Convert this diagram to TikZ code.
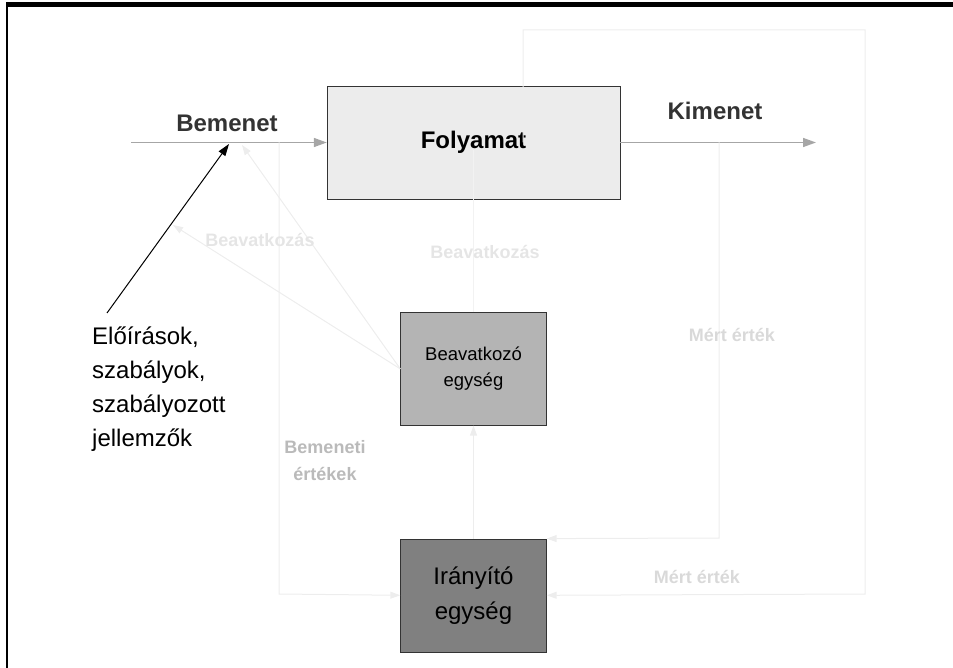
\documentclass[tikz,border=0pt]{standalone}
\usepackage{fontspec}
\setmainfont{Liberation Sans}
\usetikzlibrary{arrows.meta, positioning}

\definecolor{procfill}{HTML}{ECECEC}
\definecolor{actfill}{HTML}{B4B4B4}
\definecolor{ctrlfill}{HTML}{808080}

\begin{document}
\begin{tikzpicture}[x=1pt, y=-1pt,
	node distance=113pt,
	box/.style = {draw=black!80, minimum width=146pt, minimum height=113pt, align=center, inner sep=0pt},
	flow/.style = {draw=black!35, line width=1.5pt, -{Triangle[length=13pt,width=9pt]}},
	fb/.style = {draw=black!7, line width=1pt, -{Triangle[length=10pt,width=7pt]}},
	fbline/.style = {draw=black!5, line width=1pt},
	big/.style = {font=\bfseries\fontsize{24}{28}\selectfont},
	lbl/.style = {font=\bfseries\fontsize{18}{27}\selectfont, align=center, inner sep=0pt}
     ]
	\useasboundingbox (0,0) rectangle (953,668);
	% frame
	\draw[line width=5pt] (6,4.5) -- (953,4.5);
	\draw[line width=2pt] (7,2) -- (7,668);
%
	\node[box, minimum width=293pt, fill=procfill, big] (folyamat) at (473.5,142.5) {Folyamat};
	\node[box, below=of folyamat, fill=actfill, font=\fontsize{18.5}{26}\selectfont] (beav) {Beavatkozó\\egység};
	\node[box, below=of beav, fill=ctrlfill, font=\fontsize{24}{35}\selectfont] (iranyito) {Irányító\\egység};
%
	\coordinate (in) at (131,142.5);
	\coordinate (out) at (816,142.5);
	\coordinate (tap) at (719,142.5);
	\coordinate (split) at (279,142.5);
	\coordinate (top) at (523,142.5);
	\coordinate (elo) at (107,313);
	\coordinate (cel) at (229,144);
	\coordinate (hit1) at (173,225);
	\coordinate (hit2) at (242,145);
%
	\draw[flow] (in) -- (folyamat.west);
	\draw[flow] (folyamat.east) -- (out);
	\node[big, text=black!80] (bem) at (227,123) {Bemenet};
	\node[big, text=black!80] (kim) at (715,111) {Kimenet};
%
	% feedback lines
	\draw[fb] (top) -- (523,30) -- (865,30) -- (865,594) -- (iranyito.east);
	\draw[fb] (tap) -- (719,538) -- (iranyito.north east);
	\draw[fb] (split) -- (279,594) -- (iranyito.west);
	\draw[fb] (iranyito.north) -- (beav.south);
	\draw[fbline] (beav.north) -- ([yshift=-8pt]folyamat.center);
	\draw[fb] (beav.west) -- (hit1);
	\draw[fb] (beav.west) -- (hit2);
%
	\node[lbl, text=black!10] (bv1) at (260,240) {Beavatkozás};
	\node[lbl, text=black!10] (bv2) at (485,252) {Beavatkozás};
	\node[lbl, text=black!15] (me1) at (732,335) {Mért érték};
	\node[lbl, text=black!15] (me2) at (697,577) {Mért érték};
	\node[lbl, text=black!27] (bert) at (325,461) {Bemeneti\\értékek};
%
	\node[anchor=west, align=left, inner sep=0pt, font=\fontsize{24}{34}\selectfont] (eloiras) at (92,389)
		{Előírások,\\szabályok,\\szabályozott\\jellemzők};
	\draw[black, line width=1pt, -{Triangle[length=12pt,width=8pt]}] (elo) -- (cel);
\end{tikzpicture}
\end{document}
